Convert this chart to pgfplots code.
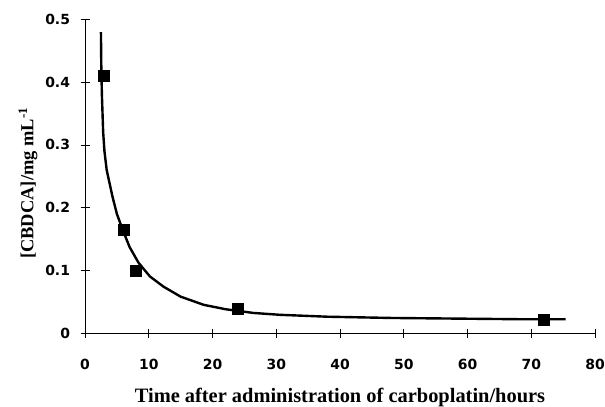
\documentclass[border=0pt]{standalone}
\usepackage{fontspec}
\setmainfont{Liberation Serif}
\newfontfamily\tickfont{DejaVu Sans}
\usepackage{pgfplots}
\pgfplotsset{compat=1.18}
\begin{document}
\begin{tikzpicture}
\begin{axis}[
    name=ax,
    scale only axis,
    width=510bp, height=313.5bp,
    xmin=0, xmax=80, ymin=0, ymax=0.5,
    axis lines*=left,
    axis line style={line width=0.8bp},
    xtick={0,10,...,80},
    ytick={0,0.1,...,0.5},
    tick align=center,
    major tick length=9bp,
    tick style={line width=0.8bp, black},
    ticklabel style={font=\tickfont\bfseries\fontsize{14}{16}\selectfont},
    /pgf/number format/assume math mode=true,
    /pgf/number format/fixed,
    xticklabel style={anchor=center, yshift=-27bp},
    yticklabel style={anchor=east, xshift=-7bp},
    xlabel={Time after administration of carboplatin/hours},
    ylabel={[CBDCA]/mg mL\textsuperscript{-1}},
    xlabel style={font=\bfseries\fontsize{20.5}{22}\selectfont,
        at={([yshift=-64bp]axis description cs:0.5,0)}, anchor=center},
    ylabel style={font=\bfseries\fontsize{18.5}{20}\selectfont,
        at={([xshift=-57bp,yshift=-7bp]axis description cs:0,0.5)}, anchor=center},
    clip=false,
]
% fitted decay curve
\addplot[black, line width=2.4bp] coordinates {
 (2.5,0.48) (2.55,0.43) (2.65,0.38) (2.85,0.32) (3.05,0.29) (3.4,0.26)
 (4.3,0.218) (5.0,0.19) (5.9,0.165) (7.0,0.137) (8.4,0.112) (10.2,0.09)
 (12.3,0.074) (15,0.058) (18.6,0.045) (22,0.038) (26.4,0.032) (30.6,0.029)
 (38,0.026) (48,0.024) (58,0.023) (68,0.022) (75.4,0.022)
};
% measured points
\addplot[only marks, mark=square*, mark size=5.5bp, black] coordinates {
 (3,0.41) (6,0.165) (8,0.10) (24,0.038) (72,0.022)
};
\end{axis}
\pgfresetboundingbox
\path ([xshift=-85bp,yshift=-73bp]ax.south west) rectangle ([xshift=10bp,yshift=19.5bp]ax.north east);
\end{tikzpicture}
\end{document}
